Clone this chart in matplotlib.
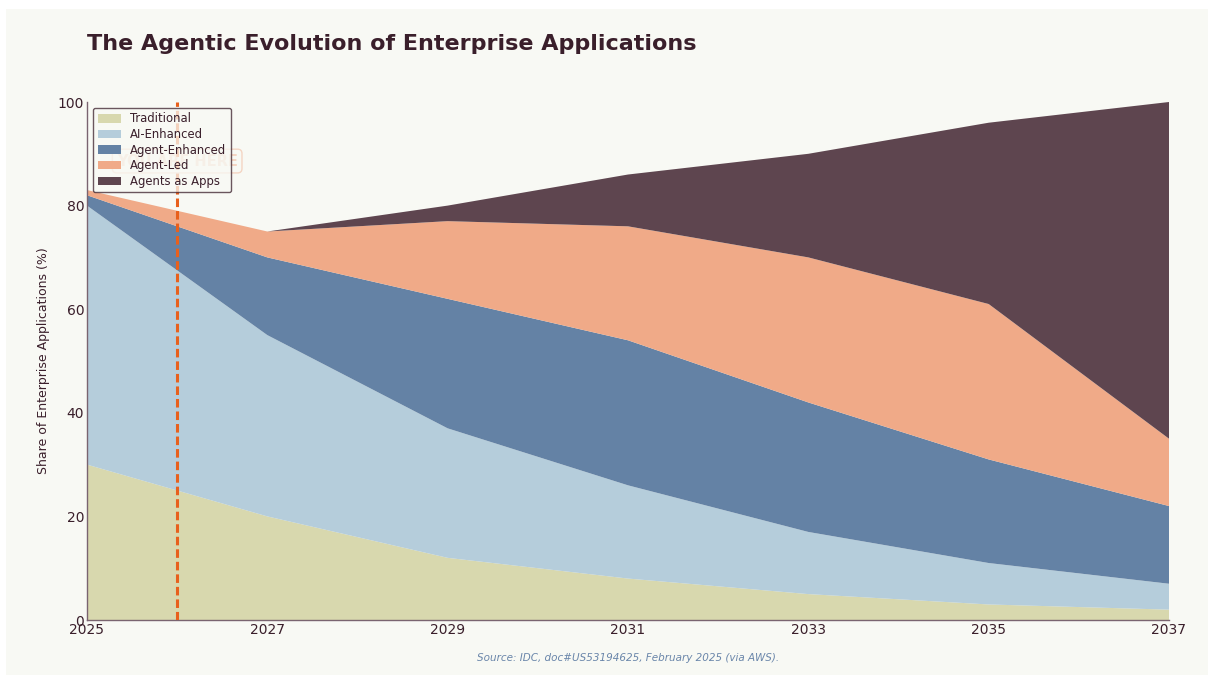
import numpy as np
import matplotlib
matplotlib.use('Agg')
from matplotlib import pyplot as plt
from matplotlib.patches import Rectangle

years = [2025, 2027, 2029, 2031, 2033, 2035, 2037]
traditional = [30, 20, 12, 8, 5, 3, 2]
ai_enhanced = [50, 35, 25, 18, 12, 8, 5]
agent_enhanced = [2, 15, 25, 28, 25, 20, 15]
agent_led = [1, 5, 15, 22, 28, 30, 13]
agents_as_apps = [0, 0, 3, 10, 20, 35, 65]

labels = ['Traditional', 'AI-Enhanced', 'Agent-Enhanced', 'Agent-Led', 'Agents as Apps']
colors = ['#d8d8ae', '#b5cddb', '#6482a5', '#f0aa88', '#5e454f']
now_year = 2026

bg = '#f8f9f4'
ink = '#3a1f2b'

fig = plt.figure(figsize=(12.14, 6.82), dpi=100, facecolor='white')
fig.patches.append(Rectangle((6/1214, 7/682), 1 - 12/1214, 1 - 16/682,
                             transform=fig.transFigure, facecolor=bg,
                             edgecolor='none', zorder=-10))
ax = fig.add_axes([87/1214, 1 - 620/682, (1169 - 87)/1214, (620 - 102)/682])
ax.set_facecolor(bg)

ax.stackplot(years, traditional, ai_enhanced, agent_enhanced, agent_led,
             agents_as_apps, labels=labels, colors=colors, linewidth=0)

# "now" marker
ax.axvline(now_year, ymin=0, ymax=1, color='#e8601c', linestyle='--',
           linewidth=2.2, dashes=(2.8, 1.3), zorder=3)
ax.text(now_year, 88.6, 'YOU ARE HERE', ha='center', va='center',
        fontsize=10.5, fontweight='bold', color='#f0aa88', alpha=0.45, zorder=4,
        bbox=dict(boxstyle='round,pad=0.3', facecolor='none',
                  edgecolor='#f0aa88', alpha=0.45))

ax.set_xlim(2025, 2037)
ax.set_ylim(0, 100)
ax.set_xticks(range(2025, 2038, 2))
ax.set_yticks(range(0, 101, 20))
ax.tick_params(length=0, labelsize=10, colors=ink, pad=2)
for side in ['top', 'right']:
    ax.spines[side].set_visible(False)
for side in ['left', 'bottom']:
    ax.spines[side].set_color('#7a6470')
    ax.spines[side].set_linewidth(1.0)

ax.set_ylabel('Share of Enterprise Applications (%)', fontsize=9,
              color=ink, labelpad=6)

leg = ax.legend(loc='upper left', fontsize=8.4, frameon=True, fancybox=True,
                facecolor=bg, edgecolor=ink, framealpha=0.75,
                borderpad=0.4, labelspacing=0.22, handlelength=2.0,
                borderaxespad=0.5)
for t in leg.get_texts():
    t.set_color(ink)
leg.set_zorder(5)

fig.text(87/1214, 1 - 44/682, 'The Agentic Evolution of Enterprise Applications',
         fontsize=16, fontweight='bold', color=ink, ha='left', va='center')
fig.text(628/1214, 1 - 658/682, 'Source: IDC, doc#US53194625, February 2025 (via AWS).',
         fontsize=7.5, style='italic', color='#6a86aa', ha='center', va='center')

fig.savefig('out.png', dpi=100, facecolor=fig.get_facecolor())
